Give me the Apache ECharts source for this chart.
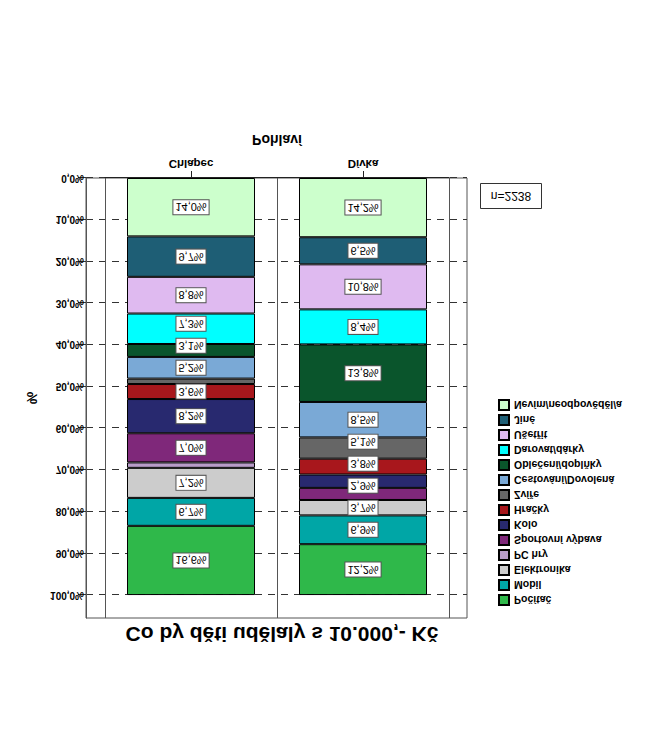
<!DOCTYPE html>
<html><head><meta charset="utf-8">
<script src="https://cdn.jsdelivr.net/npm/echarts@6/dist/echarts.min.js"></script>
<style>
html,body{margin:0;padding:0;background:#fff;overflow:hidden}
#main{width:671px;height:739px;transform:scaleY(-1);transform-origin:50% 50%;}
</style>
</head><body><div id="main"></div>
<script>
// ---- data ----
const categories = ['Chlapec', 'Dívka'];
const seriesNames = ['Nevím/neodpověděl/a', 'Jiné', 'Ušetřit', 'Darovat/dárky', 'Oblečení/doplňky',
  'Cestování/Dovolená', 'Zvíře', 'Hračky', 'Kolo', 'Sportovní výbava', 'PC hry', 'Elektronika', 'Mobil', 'Počítač'];
const chlapecValues = [14.0, 9.7, 8.8, 7.3, 3.1, 5.2, 1.3, 3.6, 8.2, 7.0, 1.3, 7.2, 6.7, 16.6];
const divkaValues   = [14.2, 6.5, 10.8, 8.4, 13.8, 8.5, 5.1, 3.8, 3.2, 2.9, 0.0, 3.7, 6.9, 12.2];
const seriesColors = ['#ccffcc', '#1e5e75', '#dfbaf0', '#00ffff', '#0a552c', '#7aa9d6', '#666666',
  '#a8171c', '#28296f', '#7f287a', '#b89cc9', '#cccccc', '#00a6a6', '#2fb84a'];
const hiddenLabels = [['Chlapec', 'Zvíře'], ['Chlapec', 'PC hry'], ['Dívka', 'Kolo'], ['Dívka', 'PC hry']];
const yTickValues = [0, 10, 20, 30, 40, 50, 60, 70, 80, 90, 100];
const yMax = 105.5;
const titleText = 'Co by děti udělaly s 10.000,- Kč';
const xAxisName = 'Pohlaví';
const yAxisName = '%';
const sampleNote = 'n=2238';

const valuesByCat = [chlapecValues, divkaValues];
const FONT = '"Liberation Sans", Arial, sans-serif';
const fmtPct = v => v.toFixed(1).replace('.', ',') + '%';
const isHidden = (ci, si) => hiddenLabels.some(h => h[0] === categories[ci] && h[1] === seriesNames[si]);

const chart = echarts.init(document.getElementById('main'), null, {renderer: 'svg'});
let labelTargets = {};

function buildSeries(withLayout) {
  return seriesNames.map((name, si) => ({
    name: name,
    type: 'bar',
    stack: 'total',
    xAxisIndex: 1,
    yAxisIndex: 1,
    barWidth: 128,
    itemStyle: {color: seriesColors[si], borderColor: '#000', borderWidth: 1},
    label: {
      show: true, position: 'inside',
      formatter: p => fmtPct(p.value),
      color: '#000', fontSize: 11, fontFamily: FONT,
      backgroundColor: '#fff', borderColor: '#555', borderWidth: 1,
      padding: [2, 2, 1, 2]
    },
    labelLayout: withLayout ? function (params) {
      const t = labelTargets[params.seriesIndex + '_' + params.dataIndex];
      if (t == null) return {};
      const cy = params.labelRect.y + params.labelRect.height / 2;
      return {dy: t - cy};
    } : undefined,
    data: categories.map((c, ci) => ({
      value: valuesByCat[ci][si],
      label: {show: !isHidden(ci, si) && valuesByCat[ci][si] > 0}
    }))
  }));
}

const option = {
  animation: false,
  textStyle: {fontFamily: FONT},
  grid: [
    {left: 86, right: 204, top: 121, bottom: 178, show: true, borderColor: '#555', borderWidth: 1, backgroundColor: 'transparent'},
    {left: 105, right: 222, top: 121, bottom: 178}
  ],
  xAxis: [
    {type: 'category', gridIndex: 0, data: categories, show: false},
    {type: 'category', gridIndex: 1, data: categories, position: 'bottom',
      axisLine: {show: true, lineStyle: {color: '#222', width: 1}},
      axisTick: {show: true, alignWithLabel: true, length: 7, lineStyle: {color: '#222'}},
      axisLabel: {color: '#000', fontWeight: 'bold', fontSize: 11.5, margin: 8, fontFamily: FONT},
      splitLine: {show: true, lineStyle: {color: '#555', width: 1}},
      name: xAxisName, nameLocation: 'middle', nameGap: 31,
      nameTextStyle: {color: '#000', fontWeight: 'bold', fontSize: 14, fontFamily: FONT}
    }
  ],
  yAxis: [
    {type: 'value', gridIndex: 0, min: 0, max: yMax, interval: 10,
      axisLine: {show: true, lineStyle: {color: '#555'}},
      axisTick: {show: true, length: 8, customValues: yTickValues, lineStyle: {color: '#333'}},
      axisLabel: {customValues: yTickValues, formatter: v => fmtPct(v), color: '#000', fontWeight: 'bold', fontSize: 10, margin: 2, fontFamily: FONT},
      splitLine: {show: true, lineStyle: {color: '#333', type: [7, 6], width: 1}},
      name: yAxisName, nameLocation: 'middle', nameGap: 46, nameRotate: 90,
      nameTextStyle: {color: '#000', fontWeight: 'bold', fontSize: 14, fontFamily: FONT}
    },
    {type: 'value', gridIndex: 1, min: 0, max: yMax, interval: 10, show: false, splitLine: {show: false}}
  ],
  legend: {
    orient: 'vertical', left: 498, top: 133, padding: 0,
    itemWidth: 10, itemHeight: 10, itemGap: 3, icon: 'rect',
    data: seriesNames.slice().reverse(),
    textStyle: {color: '#000', fontWeight: 'bold', fontSize: 10.5, lineHeight: 11, fontFamily: FONT},
    selectedMode: false
  },
  graphic: [
    {type: 'text', x: 282, y: 105, style: {text: titleText, fill: '#000', font: 'bold 21px ' + FONT, textAlign: 'center', textVerticalAlign: 'middle'}},
    {type: 'rect', shape: {x: 480.5, y: 530.5, width: 61, height: 25}, style: {fill: '#fff', stroke: '#333', lineWidth: 1}},
    {type: 'text', x: 511, y: 543, style: {text: sampleNote, fill: '#000', font: '12px ' + FONT, textAlign: 'center', textVerticalAlign: 'middle'}}
  ],
  series: buildSeries(false)
};
chart.setOption(option);

// resolve overlapping value labels inside each bar using the library's own scale:
// labels of larger cumulative share keep their place, smaller ones are pushed toward 0 %
const D = 22;
categories.forEach((cat, ci) => {
  let cum = 0;
  const items = [];
  seriesNames.forEach((name, si) => {
    const v = valuesByCat[ci][si];
    const mid = cum + v / 2;
    cum += v;
    if (!isHidden(ci, si) && v > 0) {
      const py = chart.convertToPixel({xAxisIndex: 1, yAxisIndex: 1}, [ci, mid])[1];
      items.push({si: si, y: py});
    }
  });
  items.sort((a, b) => a.y - b.y); // top of the stack first
  for (let k = 1; k < items.length; k++) {
    if (items[k].y < items[k - 1].y + D) items[k].y = items[k - 1].y + D;
  }
  items.forEach(o => { labelTargets[o.si + '_' + ci] = o.y; });
});
chart.setOption({series: buildSeries(true)});
</script>
</body></html>
